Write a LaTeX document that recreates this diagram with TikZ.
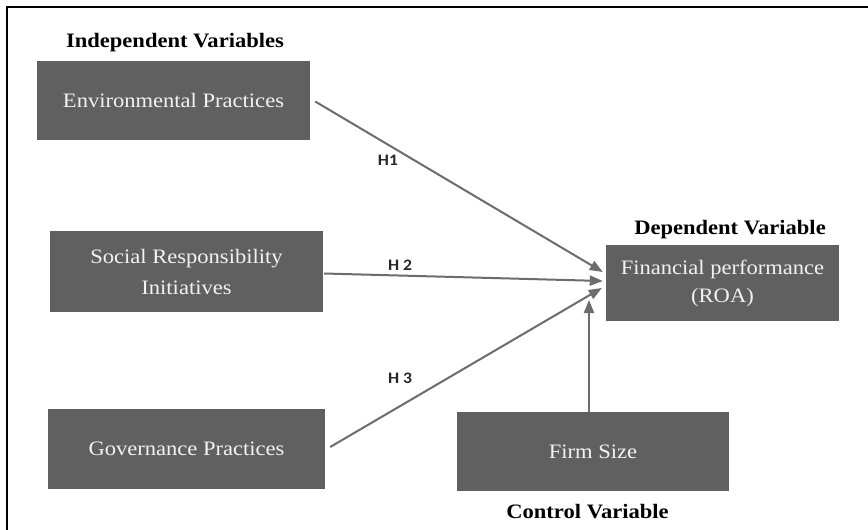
\documentclass[tikz,border=0pt]{standalone}
\usepackage{fontspec}
\setmainfont{Liberation Serif}[FakeStretch=1.1]
\newfontfamily\hfont{Carlito}[FakeStretch=1.1]
\usetikzlibrary{arrows.meta}
\definecolor{boxgray}{HTML}{606060}
\definecolor{arrgray}{HTML}{6C6C6C}
\definecolor{boxtext}{HTML}{F2F2F2}
\tikzset{
  varbox/.style={fill=boxgray, text=boxtext, inner sep=0pt, align=center,
    font=\fontsize{20.5}{31}\selectfont},
  finbox/.style={varbox, font=\fontsize{20.5}{28}\selectfont},
  heading/.style={font=\fontsize{20.5}{22}\selectfont\bfseries, text=black},
  hlabel/.style={font=\hfont\fontsize{16}{18}\selectfont\bfseries, text=black!85},
  conn/.style={draw=arrgray, line width=2pt,
    -{Triangle[length=13pt,width=10pt]}},
  frame/.style={draw=black, line width=2.2pt}
}
\begin{document}
\begin{tikzpicture}[x=1pt,y=-1pt]
\useasboundingbox (0,0) rectangle (868,530);
\fill[white] (0,0) rectangle (868,530);
% frame: top and left edges
\coordinate (fcorner) at (7,7);
\coordinate (fright) at (868,7);
\coordinate (fbottom) at (7,530);
\draw[frame] (fright) -- (fcorner) -- (fbottom);

% boxes
\node[varbox, minimum width=273pt, minimum height=79pt] (env) at (173.5,100.5) {Environmental Practices};
\node[varbox, minimum width=273pt, minimum height=81pt] (soc) at (186.5,271.5) {Social Responsibility\\Initiatives};
\node[varbox, minimum width=277pt, minimum height=80pt] (gov) at (186.5,449) {Governance Practices};
\node[finbox, minimum width=233pt, minimum height=76pt] (fin) at (722.5,283) {Financial performance\\(ROA)};
\node[varbox, minimum width=272pt, minimum height=79pt] (firm) at (593,451.5) {Firm Size};

% headings
\node[heading] (hind) at (175,43) {Independent Variables};
\node[heading] (hdep) at (730,230) {Dependent Variable};
\node[heading] (hctl) at (587.5,512) {Control Variable};

% connectors
\coordinate (fs) at ([xshift=-4pt]firm.north);
\coordinate (t4) at ([yshift=-17pt]fin.west);
\draw[conn] ([xshift=5pt,yshift=-1pt]env.east) -- ([xshift=-3pt,yshift=11pt]fin.west);
\draw[conn] ([xshift=1pt,yshift=-2pt]soc.east) -- ([xshift=-3pt,yshift=2pt]fin.west);
\draw[conn] ([xshift=5pt,yshift=2pt]gov.east) -- ([xshift=-4pt,yshift=-5pt]fin.west);
\draw[conn] (fs) -- (fs |- t4);

% hypothesis labels
\node[hlabel] (h1) at (388,160) {H1};
\node[hlabel] (h2) at (400,265) {H 2};
\node[hlabel] (h3) at (400,378) {H 3};
\end{tikzpicture}
\end{document}
